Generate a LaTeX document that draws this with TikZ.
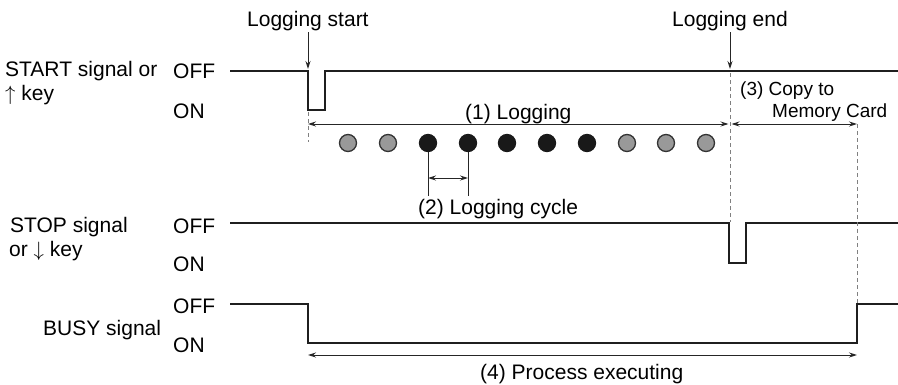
\documentclass[tikz,border=0pt]{standalone}
\usepackage{fontspec}
\setmainfont{Liberation Sans}
\usetikzlibrary{arrows.meta}
\begin{document}
\begin{tikzpicture}[x=1pt,y=-1pt,
  lbl/.style={anchor=base west,inner sep=0pt,font=\fontsize{21}{24}\selectfont},
  slbl/.style={anchor=base west,inner sep=0pt,font=\fontsize{19}{22}\selectfont},
  sig/.style={line width=2.2pt,draw=black!88,line join=miter},
  dimarrow/.style={line width=0.9pt,draw=black!85,{Stealth[length=8pt,width=5pt]}-{Stealth[length=8pt,width=5pt]}},
  downarrow/.style={line width=0.9pt,draw=black!85,-{Stealth[length=8pt,width=5pt]}},
  guide/.style={line width=0.9pt,draw=black!50,dash pattern=on 4pt off 3pt},
  thin/.style={line width=0.9pt,draw=black!85},
  dotg/.style={circle,inner sep=0pt,minimum size=17pt,fill=black!40,draw=black!80,line width=1.3pt},
  dotb/.style={circle,inner sep=0pt,minimum size=17pt,fill=black!90,draw=black!90,line width=1.3pt}
]
\useasboundingbox (0,0) rectangle (898,384);

% labels on the left
\node[lbl] (startA) at (5,76) {START signal or};
\node[lbl] (startB) at (5,100.5) {$\uparrow$ key};
\node[lbl] (stopA) at (10,232) {STOP signal};
\node[lbl] (stopB) at (9,256.5) {or $\downarrow$ key};
\node[lbl] (busy) at (43,335) {BUSY signal};

\node[lbl] (off1) at (173,78) {OFF};
\node[lbl] (on1) at (173,118) {ON};
\node[lbl] (off2) at (173,233) {OFF};
\node[lbl] (on2) at (173,271) {ON};
\node[lbl] (off3) at (173,313) {OFF};
\node[lbl] (on3) at (173,352) {ON};

% top labels
\node[lbl] (lstart) at (247,26) {Logging start};
\node[lbl] (lend) at (672,26) {Logging end};
\coordinate (lsTop) at (308,32);
\coordinate (lsTip) at (308,69);
\coordinate (leTop) at (730,32);
\coordinate (leTip) at (730,69);
\draw[downarrow] (lsTop) -- (lsTip);
\draw[downarrow] (leTop) -- (leTip);

% START signal
\draw[sig] (230,71) -- (308,71) -- (308,110) -- (325,110) -- (325,71) -- (898,71);
% STOP signal
\draw[sig] (230,223) -- (729,223) -- (729,263) -- (746,263) -- (746,223) -- (898,223);
% BUSY signal
\draw[sig] (230,304) -- (308,304) -- (308,343) -- (857,343) -- (857,304) -- (898,304);

% guide lines
\coordinate (g1a) at (308,112);
\coordinate (g1b) at (308,142);
\coordinate (g2a) at (730,73);
\coordinate (g2b) at (730,222);
\coordinate (g3a) at (857,124);
\coordinate (g3b) at (857,303);
\draw[guide] (g1a) -- (g1b);
\draw[guide] (g2a) -- (g2b);
\draw[guide] (g3a) -- (g3b);

% (1) Logging
\coordinate (a1l) at (308,124);
\coordinate (a1r) at (728.5,124);
\draw[dimarrow] (a1l) -- (a1r);
\node[lbl] (t1) at (465,119) {(1) Logging};

% (3) Copy to Memory Card
\coordinate (a3l) at (731.5,124);
\coordinate (a3r) at (857,124);
\draw[dimarrow] (a3l) -- (a3r);
\node[slbl] (t3a) at (740,95) {(3) Copy to};
\node[slbl] (t3b) at (772,117) {Memory Card};

% dots
\node[dotg] (d1) at (348,143) {};
\node[dotg] (d2) at (388,143) {};
\node[dotb] (d3) at (428,143) {};
\node[dotb] (d4) at (468,143) {};
\node[dotb] (d5) at (507,143) {};
\node[dotb] (d6) at (547,143) {};
\node[dotb] (d7) at (587,143) {};
\node[dotg] (d8) at (627,143) {};
\node[dotg] (d9) at (666,143) {};
\node[dotg] (d10) at (706,143) {};

% (2) Logging cycle
\coordinate (c3) at (428,196);
\coordinate (c4) at (468,196);
\draw[thin] (d3.south) -- (c3);
\draw[thin] (d4.south) -- (c4);
\coordinate (a2l) at (428,178);
\coordinate (a2r) at (468,178);
\draw[dimarrow] (a2l) -- (a2r);
\node[lbl] (t2) at (418,214) {(2) Logging cycle};

% (4) Process executing
\coordinate (a4l) at (308,355);
\coordinate (a4r) at (857,355);
\draw[dimarrow] (a4l) -- (a4r);
\node[lbl] (t4) at (480,379) {(4) Process executing};
\end{tikzpicture}
\end{document}
